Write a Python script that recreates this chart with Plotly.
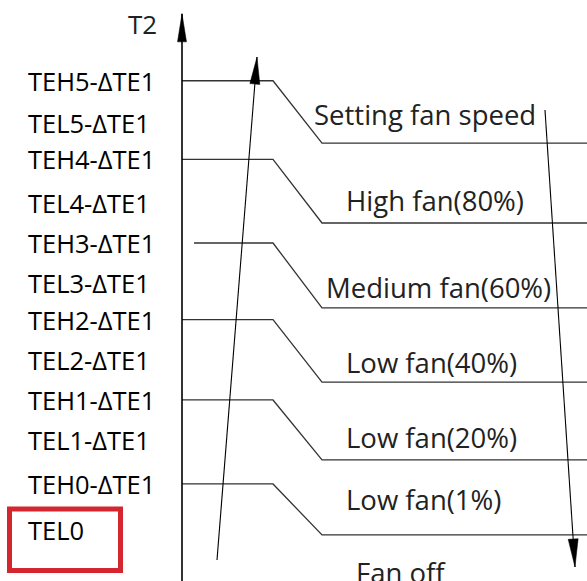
import plotly.graph_objects as go

# ---------------- data ----------------
level_labels = ["TEL0", "TEH0-ΔTE1", "TEL1-ΔTE1", "TEH1-ΔTE1", "TEL2-ΔTE1", "TEH2-ΔTE1",
                "TEL3-ΔTE1", "TEH3-ΔTE1", "TEL4-ΔTE1", "TEH4-ΔTE1", "TEL5-ΔTE1", "TEH5-ΔTE1"]
level_t2 = [0.0, 1.13, 2.21, 3.19, 4.17, 5.16, 6.06, 7.04, 8.02, 9.09, 9.98, 11.02]

threshold_labels = ["TEH5-ΔTE1", "TEH4-ΔTE1", "TEH3-ΔTE1", "TEH2-ΔTE1", "TEH1-ΔTE1", "TEH0-ΔTE1"]
band_floor_t2 = [9.49, 7.53, 5.45, 3.63, 1.72, -0.12]

fan_modes = ["Setting fan speed", "High fan(80%)", "Medium fan(60%)", "Low fan(40%)",
             "Low fan(20%)", "Low fan(1%)", "Fan off"]
fan_mode_t2 = [10.18, 8.09, 5.96, 4.12, 2.26, 0.74, -1.03]

axis_title = "T2"

# ---------------- layout constants ----------------
W, H = 587, 581
Y_TOP, Y_BOT = 13.0, -1.25
PPU = H / (Y_TOP - Y_BOT)          # pixels per T2 unit
AXIS_X = 182
STEP_X0, STEP_X1 = 273, 322
LINE_COLOR = "#333333"
FONT = "Open Sans"

level_map = dict(zip(level_labels, level_t2))

fig = go.Figure()

def arrow(x0, y0, x1, y1, head_len, head_half, width):
    # body
    fig.add_trace(go.Scatter(x=[x0, x1], y=[y0, y1], mode="lines",
                             line=dict(color="black", width=width),
                             hoverinfo="skip", showlegend=False))
    # head (computed in pixel space)
    dx, dy = (x1 - x0), (y1 - y0) * PPU
    n = (dx * dx + dy * dy) ** 0.5
    ux, uy = dx / n, dy / n
    bx, by = x1 - ux * head_len, y1 * PPU - uy * head_len
    px, py = -uy, ux
    xs = [x1, bx + px * head_half, bx - px * head_half, x1]
    ys = [y1, (by + py * head_half) / PPU, (by - py * head_half) / PPU, y1]
    fig.add_trace(go.Scatter(x=xs, y=ys, mode="lines", fill="toself",
                             fillcolor="black", line=dict(color="black", width=0.5),
                             hoverinfo="skip", showlegend=False))

# threshold step lines
for i, name in enumerate(threshold_labels):
    y_hi = level_map[name]
    y_lo = band_floor_t2[i]
    x_start = 194 if name.startswith("TEH3") else AXIS_X
    fig.add_trace(go.Scatter(x=[x_start, STEP_X0, STEP_X1, W + 5],
                             y=[y_hi, y_hi, y_lo, y_lo], mode="lines",
                             line=dict(color=LINE_COLOR, width=1.3),
                             hoverinfo="skip", showlegend=False))

# T2 axis arrow
arrow(AXIS_X, Y_BOT - 0.2, AXIS_X, 12.66, 28, 4.5, 1.6)
# rising trend arrow
arrow(217, -0.735, 257, 11.60, 27, 5, 1.1)
# falling trend arrow
arrow(545, 10.30, 575, -0.906, 28, 5, 1.1)

annotations = []
for name, t2 in zip(level_labels, level_t2):
    annotations.append(dict(x=26, y=t2, text=name, xanchor="left", yanchor="middle",
                            showarrow=False, font=dict(family=FONT, size=25.5, color="black")))
annotations.append(dict(x=159, y=12.42, text=axis_title, xanchor="right", yanchor="middle",
                        showarrow=False, font=dict(family=FONT, size=26, color="#222222")))
mode_x = [312, 344, 324, 344, 344, 344, 354]
for name, t2, x in zip(fan_modes, fan_mode_t2, mode_x):
    annotations.append(dict(x=x, y=t2, text=name, xanchor="left", yanchor="middle",
                            showarrow=False, font=dict(family=FONT, size=27.5, color="#222222")))

fig.update_layout(
    width=W, height=H, autosize=False,
    margin=dict(l=0, r=0, t=0, b=0, pad=0),
    paper_bgcolor="white", plot_bgcolor="white",
    xaxis=dict(range=[0, W], visible=False, fixedrange=True),
    yaxis=dict(range=[Y_BOT, Y_TOP], visible=False, fixedrange=True),
    annotations=annotations,
    shapes=[dict(type="rect", xref="x", yref="y", x0=9.5, x1=120.5,
                 y0=Y_TOP - 509 / PPU, y1=Y_TOP - 570.5 / PPU,
                 line=dict(color="#d3262f", width=5))],
    showlegend=False,
)

fig.write_html("out.html", config={"displayModeBar": False, "staticPlot": True},
               post_script="document.body.style.margin='0px';document.body.style.overflow='hidden';")
